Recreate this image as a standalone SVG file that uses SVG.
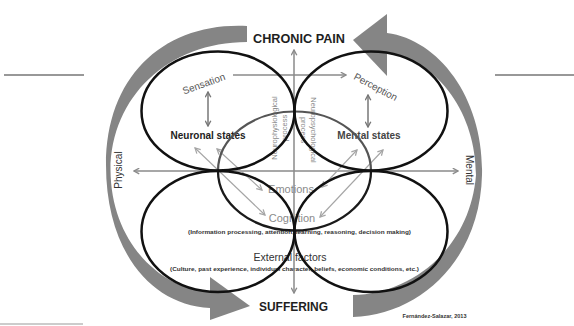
<svg xmlns="http://www.w3.org/2000/svg" width="574" height="326" viewBox="0 0 574 326">
<defs>
<style>
text{font-family:"Liberation Sans",Arial,sans-serif;}
.band{fill:#858585;}
.big{fill:none;stroke:#111;stroke-width:2.5;}
.title{font-size:13px;font-weight:bold;fill:#1e1e1e;text-anchor:middle;}
.lbl{font-size:10px;fill:#555;text-anchor:middle;}
.state{font-size:10px;font-weight:bold;text-anchor:middle;}
.mid{font-size:11px;fill:#8a8a8a;text-anchor:middle;}
.small{font-size:6px;font-weight:bold;fill:#333;text-anchor:middle;}
.proc{font-size:7.5px;fill:#8a8a8a;text-anchor:middle;}
.axis{fill:none;stroke:#8a8a8a;stroke-width:1.5;}
.dbl{fill:none;stroke:#777;stroke-width:1.5;}
.diag{fill:none;stroke:#a5a5a5;stroke-width:1.1;}
.rule{stroke:#333;stroke-width:1.2;}
</style>
<marker id="ma" viewBox="0 0 10 10" refX="8.5" refY="5" markerWidth="7" markerHeight="7" markerUnits="userSpaceOnUse" orient="auto-start-reverse"><path d="M1,1 L8.5,5 L1,9" fill="none" stroke="#8a8a8a" stroke-width="2"/></marker>
<marker id="md" viewBox="0 0 10 10" refX="8.5" refY="5" markerWidth="7" markerHeight="7" markerUnits="userSpaceOnUse" orient="auto-start-reverse"><path d="M1,1 L8.5,5 L1,9" fill="none" stroke="#777" stroke-width="2"/></marker>
<marker id="mg" viewBox="0 0 10 10" refX="8.5" refY="5" markerWidth="7" markerHeight="7" markerUnits="userSpaceOnUse" orient="auto-start-reverse"><path d="M1,1 L8.5,5 L1,9" fill="none" stroke="#a5a5a5" stroke-width="1.8"/></marker>
</defs>
<rect width="574" height="326" fill="#fff"/>

<g id="rules">
<line class="rule" x1="4" y1="75" x2="84" y2="75"/>
<line class="rule" x1="495" y1="75" x2="574" y2="75"/>
<line x1="0" y1="324" x2="83" y2="324" stroke="#999" stroke-width="1.2"/>
</g>

<g id="band-left">
<path class="band" d="M247,26 C165,22 106,75 106,165 C106,250 150,305 210,308 L210,292 C160,289 111,242 110.5,170 C111,97 168,42 247,42 Z"/>
<polygon class="band" points="210,277 250,306 210,320"/>
</g>
<g id="band-right">
<path class="band" d="M387,33 C440,40 484,100 482,175 C480,260 420,315 353,317 L353,295 C410,294 470,250 476,175 C476,115 440,62 387,52 Z"/>
<polygon class="band" points="387,14 353,40 387,76"/>
</g>

<g id="n-chronic-pain"><text class="title" x="299" y="43" textLength="92" lengthAdjust="spacingAndGlyphs">CHRONIC PAIN</text></g>
<g id="n-suffering"><text class="title" x="293.5" y="311" textLength="69" lengthAdjust="spacingAndGlyphs">SUFFERING</text></g>
<g id="n-sensation"><text class="lbl" transform="translate(205,87) rotate(-20)">Sensation</text></g>
<g id="n-perception"><text class="lbl" transform="translate(374,90) rotate(28)">Perception</text></g>
<g id="n-neuronal-states"><text class="state" x="208" y="139" fill="#222">Neuronal states</text></g>
<g id="n-mental-states"><text class="state" x="369" y="139" fill="#444">Mental states</text></g>
<g id="n-neurophysiological"><text class="proc" transform="translate(277,128) rotate(-90)"><tspan x="0" y="0">Neurophysiological</tspan><tspan x="0" y="10">process</tspan></text></g>
<g id="n-neuropsychological"><text class="proc" transform="translate(311,130) rotate(90)"><tspan x="0" y="0">Neuropsychological</tspan><tspan x="0" y="10">process</tspan></text></g>
<g id="n-emotions"><text class="mid" x="291" y="193">Emotions</text></g>
<g id="n-cognition"><text class="mid" x="292" y="222">Cognition</text>
<text class="small" x="299.5" y="234" textLength="223" lengthAdjust="spacingAndGlyphs">(Information processing, attention, learning, reasoning, decision making)</text></g>
<g id="n-external-factors"><text x="290" y="261" font-size="10.5" fill="#333" text-anchor="middle">External factors</text>
<text class="small" x="294.5" y="271" textLength="249" lengthAdjust="spacingAndGlyphs">(Culture, past experience, individual character, beliefs, economic conditions, etc.)</text></g>
<g id="n-physical"><text transform="translate(122,170) rotate(-90)" font-size="10" fill="#333" text-anchor="middle">Physical</text></g>
<g id="n-mental"><text transform="translate(466,170) rotate(90)" font-size="10" fill="#333" text-anchor="middle">Mental</text></g>
<g id="n-credit"><text x="434.5" y="318" font-size="5.5" font-weight="bold" fill="#333" text-anchor="middle" textLength="64" lengthAdjust="spacingAndGlyphs">Fernández-Salazar, 2013</text></g>

<g id="connectors">
<line class="axis" x1="134" y1="171" x2="458" y2="171" marker-start="url(#ma)" marker-end="url(#ma)"/>
<line class="axis" x1="294" y1="50" x2="294" y2="293" marker-start="url(#ma)" marker-end="url(#ma)"/>
<line class="axis" x1="233" y1="75" x2="346" y2="75" marker-end="url(#ma)"/>
<line class="dbl" x1="208" y1="92" x2="208" y2="126" marker-start="url(#md)" marker-end="url(#md)"/>
<line class="dbl" x1="368" y1="95" x2="368" y2="127" marker-start="url(#md)" marker-end="url(#md)"/>
<line class="diag" x1="195" y1="148" x2="265" y2="215" marker-start="url(#mg)" marker-end="url(#mg)"/>
<line class="diag" x1="217" y1="149" x2="262" y2="190" marker-start="url(#mg)" marker-end="url(#mg)"/>
<line class="diag" x1="357" y1="150" x2="322" y2="187" marker-start="url(#mg)" marker-end="url(#mg)"/>
<line class="diag" x1="383" y1="150" x2="320" y2="217" marker-start="url(#mg)" marker-end="url(#mg)"/>
</g>

<g id="n-ellipse-middle">
<path d="M218,171 A76.5 59.5 0 0 1 371,171" fill="none" stroke="#555" stroke-width="2.2"/>
<path d="M371,171 A76.5 59.5 0 0 1 218,171" fill="none" stroke="#1a1a1a" stroke-width="2.3"/>
</g>
<g id="n-ellipse-tl"><ellipse class="big" cx="218" cy="111" rx="76.5" ry="59.5"/></g>
<g id="n-ellipse-tr"><ellipse class="big" cx="371" cy="111" rx="76.5" ry="59.5"/></g>
<g id="n-ellipse-bl"><ellipse class="big" cx="218" cy="231.5" rx="76.5" ry="60.5"/></g>
<g id="n-ellipse-br"><ellipse class="big" cx="371" cy="231.5" rx="76.5" ry="60.5"/></g>
</svg>
